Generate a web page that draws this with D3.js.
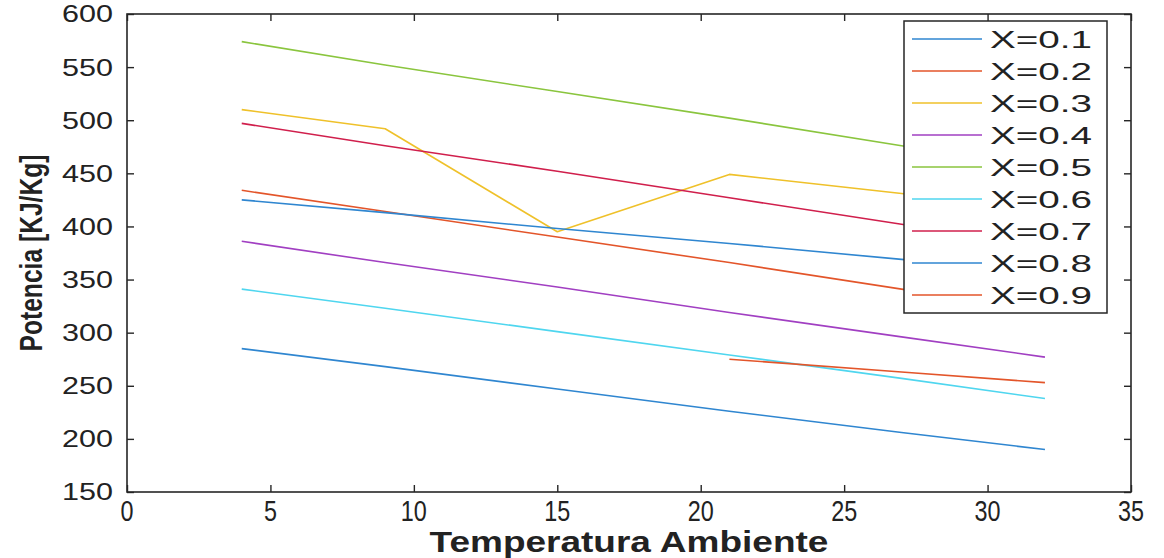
<!DOCTYPE html>
<html>
<head>
<meta charset="utf-8">
<script src="https://cdn.jsdelivr.net/npm/d3@7"></script>
<style>
  html, body { margin: 0; padding: 0; background: #fff; }
  svg { display: block; }
  text { font-family: "Liberation Sans", Arial, sans-serif; fill: #222; }
</style>
</head>
<body>
<svg id="chart" width="1164" height="558"></svg>
<script>
// ---- data ----
const temps = [4, 9, 15, 21, 27, 32];
const seriesNames = ["X=0.1", "X=0.2", "X=0.3", "X=0.4", "X=0.5", "X=0.6", "X=0.7", "X=0.8", "X=0.9"];
const s01 = [285, 268, 247, 226, 206, 190];
const s02 = [434, 414, 390, 366, 341, 321];
const s03 = [510, 492, 395, 449, 431, 417];
const s04 = [386, 366, 343, 319, 296, 277];
const s05 = [574, 552, 527, 502, 476, 455];
const s06 = [341, 323, 301, 279, 257, 238];
const s07 = [497, 476, 452, 427, 402, 382];
const s08 = [425, 413, 398, 384, 369, 357];
const s09 = [null, null, null, 275, 263, 253];
const seriesValues = [s01, s02, s03, s04, s05, s06, s07, s08, s09];
const colors = ["#2f86d0", "#e3552a", "#efc12a", "#a13fc2", "#8ac53e", "#4fd6ef", "#d01f4c", "#2f86d0", "#e3552a"];
const xTicks = [0, 5, 10, 15, 20, 25, 30, 35];
const yTicks = [150, 200, 250, 300, 350, 400, 450, 500, 550, 600];

// ---- layout ----
const svg = d3.select("#chart");
const L = 127, R = 1131, T = 14, B = 492;
const x = d3.scaleLinear().domain([0, 35]).range([L, R]);
const y = d3.scaleLinear().domain([150, 600]).range([B, T]);
const axisColor = "#262626";

// fit text horizontally to a target width (keeps anchor position)
function fitText(sel, targetW, ax, ay) {
  const w = sel.node().getComputedTextLength();
  const s = targetW / w;
  sel.attr("transform", `translate(${ax},${ay}) scale(${s},1) translate(${-ax},${-ay})`);
}

// ---- lines ----
const line = d3.line()
  .defined(d => d[1] != null)
  .x(d => x(d[0]))
  .y(d => y(d[1]));

const gLines = svg.append("g");
seriesValues.forEach((vals, i) => {
  gLines.append("path")
    .datum(temps.map((t, j) => [t, vals[j]]))
    .attr("fill", "none")
    .attr("stroke", colors[i])
    .attr("stroke-width", 1.6)
    .attr("stroke-linejoin", "round")
    .attr("d", line);
});

// ---- axes (box with inward ticks) ----
const tickLen = 7;
const gAx = svg.append("g");
function styleAxis(g) {
  g.select(".domain").remove();
  g.selectAll("line").attr("stroke", axisColor).attr("stroke-width", 1.4);
}
gAx.append("g").attr("transform", `translate(0,${B})`)
  .call(d3.axisBottom(x).tickValues(xTicks).tickSize(-tickLen).tickFormat("")).call(styleAxis);
gAx.append("g").attr("transform", `translate(0,${T})`)
  .call(d3.axisTop(x).tickValues(xTicks).tickSize(-tickLen).tickFormat("")).call(styleAxis);
gAx.append("g").attr("transform", `translate(${L},0)`)
  .call(d3.axisLeft(y).tickValues(yTicks).tickSize(-tickLen).tickFormat("")).call(styleAxis);
gAx.append("g").attr("transform", `translate(${R},0)`)
  .call(d3.axisRight(y).tickValues(yTicks).tickSize(-tickLen).tickFormat("")).call(styleAxis);
gAx.append("rect")
  .attr("x", L).attr("y", T).attr("width", R - L).attr("height", B - T)
  .attr("fill", "none").attr("stroke", axisColor).attr("stroke-width", 1.6);

// tick labels
xTicks.forEach(v => {
  const t = svg.append("text")
    .attr("x", x(v)).attr("y", 521)
    .attr("text-anchor", "middle")
    .attr("font-size", 29)
    .text(v);
  fitText(t, String(v).length * 13, x(v), 521);
});
yTicks.forEach(v => {
  const t = svg.append("text")
    .attr("x", 113).attr("y", y(v) + 8.5)
    .attr("text-anchor", "end")
    .attr("font-size", 23)
    .text(v);
  fitText(t, 51, 113, y(v) + 8.5);
});

// axis titles
const xt = svg.append("text")
  .attr("x", 629).attr("y", 552)
  .attr("text-anchor", "middle")
  .attr("font-size", 30).attr("font-weight", "bold")
  .text("Temperatura Ambiente");
fitText(xt, 399, 629, 552);

const yt = svg.append("text")
  .attr("x", 0).attr("y", 0)
  .attr("text-anchor", "middle")
  .attr("font-size", 31).attr("font-weight", "bold")
  .text("Potencia [KJ/Kg]");
const yw = yt.node().getComputedTextLength();
yt.attr("transform", `translate(42,253) rotate(-90) scale(${197 / yw},1)`);

// ---- legend ----
const lg = svg.append("g");
lg.append("rect")
  .attr("x", 904).attr("y", 21).attr("width", 203).attr("height", 292)
  .attr("fill", "#fff").attr("stroke", axisColor).attr("stroke-width", 1.5);
seriesNames.forEach((name, i) => {
  const cy = 39 + i * 32;
  lg.append("line")
    .attr("x1", 912).attr("x2", 982).attr("y1", cy).attr("y2", cy)
    .attr("stroke", colors[i]).attr("stroke-width", 1.6);
  const t = lg.append("text")
    .attr("x", 990).attr("y", cy + 9)
    .attr("font-size", 24)
    .text(name);
  fitText(t, 102, 990, cy + 9);
});
</script>
</body>
</html>
